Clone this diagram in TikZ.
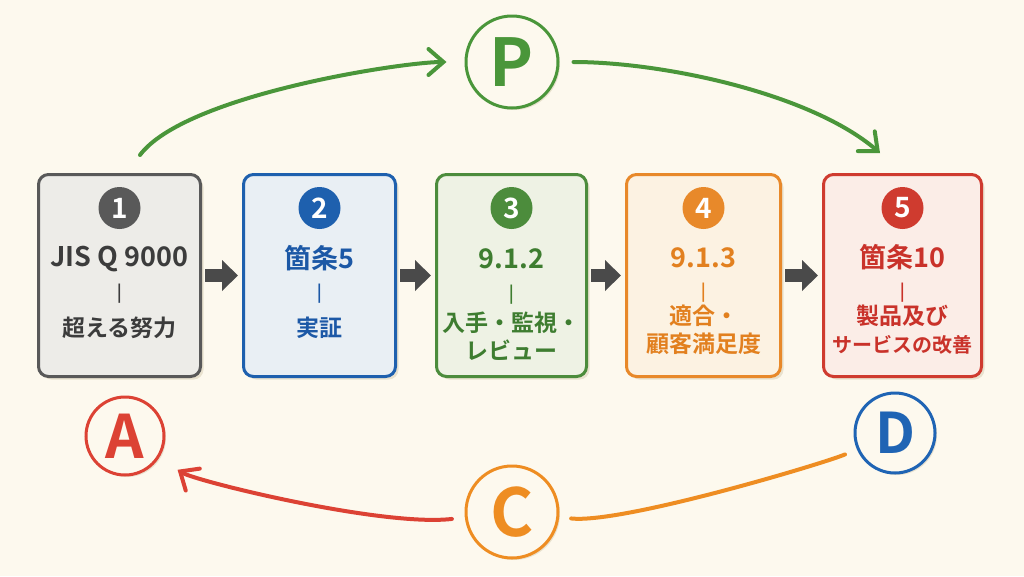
\documentclass[tikz,border=0pt]{standalone}
\usepackage{fontspec}
\setmainfont{Noto Sans CJK JP}[BoldFont={Noto Sans CJK JP Bold}]
\usepackage{xcolor}
\usepackage{tikz}
\usetikzlibrary{arrows.meta,shadows}
\pgfdeclarelayer{nodelayer}
\pgfdeclarelayer{edgelayer}
\pgfsetlayers{main,nodelayer,edgelayer}
\definecolor{bgcol}{HTML}{FDF9EE}
\definecolor{shadowcol}{HTML}{E9E2CF}
\definecolor{greyline}{HTML}{595959}
\definecolor{greyfill}{HTML}{EDECE8}
\definecolor{greytext}{HTML}{3C3C3C}
\definecolor{blueline}{HTML}{1E60AE}
\definecolor{bluefill}{HTML}{E9EFF4}
\definecolor{bluetext}{HTML}{1C58A6}
\definecolor{greenline}{HTML}{4C8C3C}
\definecolor{greenfill}{HTML}{EEF2E4}
\definecolor{greentext}{HTML}{3E7D30}
\definecolor{orangeline}{HTML}{E8892A}
\definecolor{orangefill}{HTML}{FCF2E2}
\definecolor{orangetext}{HTML}{E2801F}
\definecolor{redline}{HTML}{CF3B2F}
\definecolor{redfill}{HTML}{FBEDE7}
\definecolor{redtext}{HTML}{C9322A}
\definecolor{arrowgrey}{HTML}{4A4A4A}
\definecolor{pgreen}{HTML}{4A963A}
\definecolor{dblue}{HTML}{1F64B4}
\definecolor{corange}{HTML}{EE8D22}
\definecolor{ared}{HTML}{DC4234}
\tikzstyle{step box}=[shape=rectangle, rounded corners=10pt, line width=3pt, minimum height=202pt, drop shadow={shadow xshift=3pt, shadow yshift=-3pt, fill=shadowcol, opacity=1}]
\tikzstyle{num dot}=[shape=circle, minimum size=42pt, inner sep=0pt, text=white, font=\bfseries\fontsize{28}{28}\selectfont]
\tikzstyle{head text}=[inner sep=0pt, font=\bfseries\fontsize{27}{27}\selectfont]
\tikzstyle{bar text}=[inner sep=0pt, font=\bfseries\fontsize{17}{17}\selectfont]
\tikzstyle{body text}=[inner sep=0pt, align=center, font=\bfseries\fontsize{23}{28}\selectfont]
\tikzstyle{pdca}=[shape=circle, line width=3pt, fill=bgcol, inner sep=0pt, drop shadow={shadow xshift=2pt, shadow yshift=-2pt, fill=shadowcol, opacity=1}]
\tikzstyle{flow arrow}=[-{Triangle[length=16pt,width=30pt]}, line width=13pt, draw=arrowgrey, shorten <=3pt, shorten >=4pt]
\tikzstyle{cycle edge}=[line width=4pt, line cap=round]
\tikzstyle{barb}=[-{Straight Barb[length=15pt,width=26pt,line cap=round]}]

\begin{document}
\begin{tikzpicture}[x=1pt, y=-1pt]
        \fill[bgcol] (0,0) rectangle (1024,576);
        \useasboundingbox (0,0) rectangle (1024,576);
        \begin{pgfonlayer}{nodelayer}
            \node[style=step box, draw=greyline, fill=greyfill, minimum width=162pt] (b1) at (119.5,275.5) {};
            \node[style=step box, draw=blueline, fill=bluefill, minimum width=152pt] (b2) at (319.5,275.5) {};
            \node[style=step box, draw=greenline, fill=greenfill, minimum width=150pt] (b3) at (511.5,275.5) {};
            \node[style=step box, draw=orangeline, fill=orangefill, minimum width=154pt] (b4) at (703.5,275.5) {};
            \node[style=step box, draw=redline, fill=redfill, minimum width=158pt] (b5) at (902.5,275.5) {};

            \node[style=num dot, fill=greyline] (n1) at (119.5,208) {1};
            \node[style=num dot, fill=blueline] (n2) at (319.5,208) {2};
            \node[style=num dot, fill=greenline] (n3) at (511.5,208) {3};
            \node[style=num dot, fill=orangeline] (n4) at (703.5,208) {4};
            \node[style=num dot, fill=redline] (n5) at (902.5,208) {5};

            \node[style=head text, text=greytext] (h1) at (119.5,259) {JIS Q 9000};
            \node[style=head text, text=bluetext] (h2) at (319.5,258) {箇条5};
            \node[style=head text, text=greentext] (h3) at (511.5,259) {9.1.2};
            \node[style=head text, text=orangetext] (h4) at (703.5,258) {9.1.3};
            \node[style=head text, text=redtext] (h5) at (902.5,257) {箇条10};

            \node[style=bar text, text=greytext] (d1) at (119.5,294) {|};
            \node[style=bar text, text=bluetext] (d2) at (319.5,294) {|};
            \node[style=bar text, text=greentext] (d3) at (511.5,295) {|};
            \node[style=bar text, text=orangetext] (d4) at (703.5,293) {|};
            \node[style=bar text, text=redtext] (d5) at (902.5,293) {|};

            \node[style=body text, text=greytext] (t1) at (119.5,328) {超える努力};
            \node[style=body text, text=bluetext] (t2) at (319.5,328) {実証};
            \node[style=body text, text=greentext] (t3) at (511.5,336) {入手・監視・\\レビュー};
            \node[style=body text, text=orangetext] (t4) at (703.5,330) {適合・\\顧客満足度};
            \node[style=body text, text=redtext] (t5) at (902.5,330) {製品及び\\\fontsize{20}{28}\selectfont サービスの改善};

            \node[style=pdca, draw=pgreen, text=pgreen, minimum size=92pt, font=\bfseries\fontsize{66}{66}\selectfont] (P) at (512,62) {P};
            \node[style=pdca, draw=dblue, text=dblue, minimum size=80pt, font=\bfseries\fontsize{56}{56}\selectfont] (D) at (895,433) {D};
            \node[style=pdca, draw=corange, text=corange, minimum size=92pt, font=\bfseries\fontsize{66}{66}\selectfont] (C) at (512,512) {C};
            \node[style=pdca, draw=ared, text=ared, minimum size=78pt, font=\bfseries\fontsize{60}{60}\selectfont] (A) at (125,436) {A};

            \coordinate (pstart) at (140,155);
            \coordinate (pend) at (880,153);
        \end{pgfonlayer}
        \begin{pgfonlayer}{edgelayer}
            % flow between steps
            \draw[style=flow arrow] (b1) -- (b2);
            \draw[style=flow arrow] (b2) -- (b3);
            \draw[style=flow arrow] (b3) -- (b4);
            \draw[style=flow arrow] (b4) -- (b5);
            % PDCA cycle
            \draw[style=cycle edge, style=barb, draw=pgreen, shorten >=18pt] (pstart) .. controls +(45,-60) and +(-110,0) .. (P);
            \draw[style=cycle edge, style=barb, draw=pgreen, shorten <=14pt] (P) .. controls +(150,0) and +(-70,-60) .. (pend);
            \draw[style=cycle edge, draw=corange, shorten <=13pt, shorten >=12pt] (D) .. controls +(-70,30) and +(110,12) .. (C);
            \draw[style=cycle edge, style=barb, draw=ared, shorten <=13pt, shorten >=22pt] (C) .. controls +(-130,15) and +(70,45) .. (A);
        \end{pgfonlayer}
    \end{tikzpicture}
\end{document}
